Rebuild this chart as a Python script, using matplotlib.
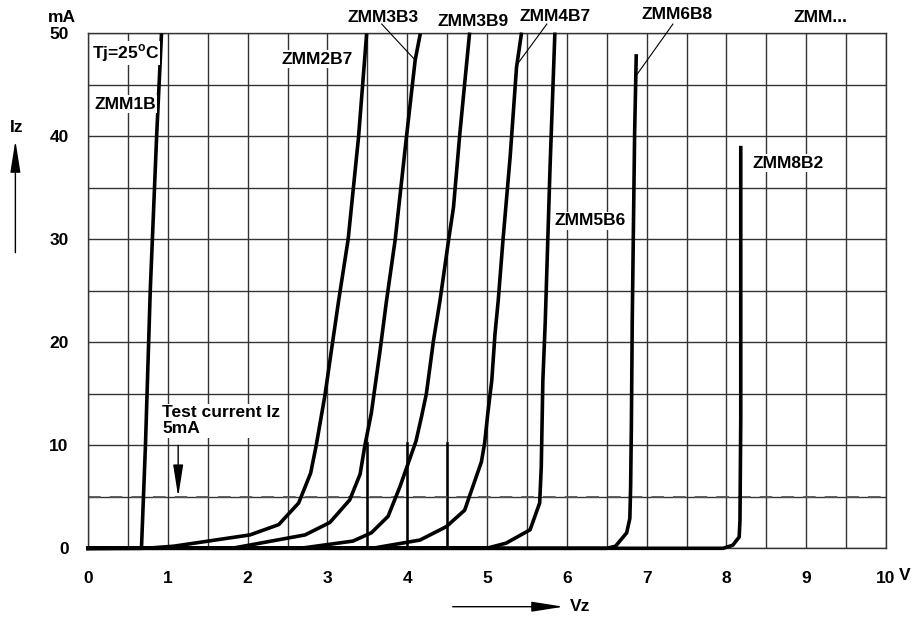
import numpy as np
from matplotlib import pyplot as plt

plt.rcParams['font.family'] = ['Liberation Sans', 'DejaVu Sans']
plt.rcParams['font.weight'] = 'bold'
plt.rcParams['mathtext.fontset'] = 'custom'
plt.rcParams['mathtext.rm'] = 'Liberation Sans:bold'

# Zener characteristics, Vz in V, Iz in mA
zmm1b_v = [0, 0.67, 0.72, 0.78, 0.86, 0.92]
zmm1b_i = [0, 0, 10, 25, 40, 49.8]

zmm2b7_v = [0, 0.81, 1.07, 2.03, 2.39, 2.64, 2.79, 2.86, 2.97, 3.05, 3.14, 3.26, 3.39, 3.49]
zmm2b7_i = [0, 0.05, 0.2, 1.3, 2.3, 4.4, 7.3, 10, 14.9, 19.2, 24, 30, 39.9, 49.8]

zmm3b3_v = [0, 1.84, 2.72, 3.03, 3.28, 3.41, 3.47, 3.55, 3.66, 3.74, 3.85, 3.99, 4.10, 4.16]
zmm3b3_i = [0, 0.05, 1.3, 2.5, 4.7, 7.2, 10, 13.1, 19.2, 24, 30, 39.9, 47.4, 49.8]

zmm3b9_v = [0, 2.71, 3.32, 3.55, 3.76, 3.91, 4.11, 4.18, 4.24, 4.33, 4.41, 4.52, 4.58, 4.66, 4.72, 4.78]
zmm3b9_i = [0, 0.05, 0.7, 1.5, 3.1, 6.0, 10.4, 12.8, 15.0, 20.2, 24, 30, 33.1, 40.3, 45.1, 49.9]

zmm4b7_v = [0, 3.6, 4.16, 4.49, 4.72, 4.93, 4.97, 5.01, 5.06, 5.10, 5.14, 5.20, 5.29, 5.37, 5.43]
zmm4b7_i = [0, 0.05, 0.8, 2.1, 3.7, 8.4, 10.2, 13.1, 16.3, 20.8, 24, 29.9, 38, 46.7, 49.9]

zmm5b6_v = [0, 5.02, 5.24, 5.54, 5.66, 5.68, 5.70, 5.73, 5.79, 5.85]
zmm5b6_i = [0, 0.05, 0.5, 1.8, 4.4, 7.9, 16.3, 22, 37, 49.9]

zmm6b8_v = [0, 6.50, 6.61, 6.75, 6.79, 6.80, 6.81, 6.82, 6.85, 6.87]
zmm6b8_i = [0, 0, 0.2, 1.5, 2.9, 6.0, 12.5, 22, 40.3, 47.8]

zmm8b2_v = [0, 7.96, 8.08, 8.16, 8.17, 8.18, 8.18]
zmm8b2_i = [0, 0, 0.3, 1.1, 2.7, 12.5, 38.9]

curves = [
    (zmm1b_v, zmm1b_i), (zmm2b7_v, zmm2b7_i), (zmm3b3_v, zmm3b3_i),
    (zmm3b9_v, zmm3b9_i), (zmm4b7_v, zmm4b7_i), (zmm5b6_v, zmm5b6_i),
    (zmm6b8_v, zmm6b8_i), (zmm8b2_v, zmm8b2_i),
]

x_ticks = [0, 1, 2, 3, 4, 5, 6, 7, 8, 9, 10]
y_ticks = [0, 10, 20, 30, 40, 50]
test_current = 5
bold_marks = [3.5, 4.0, 4.5]

# label text, x, y (left aligned)
labels = [
    ('ZMM1B', 0.08, 43.1),
    ('ZMM2B7', 2.42, 47.5),
    ('ZMM3B3', 3.25, 51.5),
    ('ZMM3B9', 4.38, 51.1),
    ('ZMM4B7', 5.41, 51.6),
    ('ZMM6B8', 6.94, 51.8),
    ('ZMM...', 8.84, 51.5),
    ('ZMM8B2', 8.33, 37.4),
    ('ZMM5B6', 5.84, 31.8),
]
leaders = [
    ((3.68, 50.9), (4.10, 47.4)),
    ((5.75, 50.9), (5.39, 47.1)),
    ((7.33, 50.9), (6.87, 45.9)),
]

fs = 12.5

fig = plt.figure(figsize=(9.17, 6.19), dpi=100)
ax = fig.add_axes([88 / 917, 1 - 548.3 / 619, (886 - 88) / 917, (548.3 - 33.3) / 619])
ax.set_xlim(0, 10)
ax.set_ylim(0, 50)

ax.set_xticks(x_ticks)
ax.set_xticks(np.arange(0, 10.01, 0.5), minor=True)
ax.set_yticks(y_ticks)
ax.set_yticks(np.arange(0, 50.01, 5), minor=True)
ax.tick_params(which='both', length=0)
ax.tick_params(axis='x', pad=16, labelsize=fs)
ax.tick_params(axis='y', pad=14, labelsize=fs)
ax.grid(which='both', color='#333333', lw=1.0)
ax.set_axisbelow(True)
for s in ax.spines.values():
    s.set_color('#333333')
    s.set_linewidth(1.0)

for x in bold_marks:
    ax.plot([x, x], [0, 10.2], color='k', lw=1.8, zorder=2)

ax.axhline(test_current, color='#555555', lw=1.3, dashes=(7, 5), zorder=2)

for v, i in curves:
    ax.plot(v, i, color='k', lw=2.6, solid_joinstyle='round', zorder=3, clip_on=False)

bbox = dict(facecolor='white', edgecolor='none', pad=1)
for txt, x, y in labels:
    ax.text(x, y, txt, fontsize=fs, ha='left', va='center', bbox=bbox, zorder=4, clip_on=False)
for (x0, y0), (x1, y1) in leaders:
    ax.plot([x0, x1], [y0, y1], color='k', lw=0.8, zorder=4, clip_on=False)

ax.text(0.05, 48.1, r'Tj=25$^{\rm o}$C', fontsize=fs, ha='left', va='center', bbox=bbox, zorder=4)
ax.text(0.93, 12.4, 'Test current Iz\n5mA', fontsize=fs, ha='left', va='center',
        linespacing=1.1, bbox=bbox, zorder=4)

arrow = dict(arrowstyle='-|>,head_length=1.4,head_width=0.22', color='k', lw=1.0,
             mutation_scale=14, shrinkA=0, shrinkB=0)
ax.annotate('', xy=(1.13, 5.0), xytext=(1.13, 10.0), arrowprops=arrow, zorder=4)
ax.annotate('', xy=(-0.91, 39.6), xytext=(-0.91, 28.7), arrowprops=arrow, annotation_clip=False)
ax.annotate('', xy=(5.96, -5.67), xytext=(4.57, -5.67), arrowprops=arrow, annotation_clip=False)

ax.text(-0.90, 40.9, 'Iz', fontsize=fs, ha='center', va='center', clip_on=False)
ax.text(6.04, -5.67, 'Vz', fontsize=fs, ha='left', va='center', clip_on=False)
ax.text(-0.33, 51.5, 'mA', fontsize=fs, ha='center', va='center', clip_on=False)
ax.text(10.24, -2.6, 'V', fontsize=fs, ha='center', va='center', clip_on=False)

fig.savefig('out.png', dpi=100)
